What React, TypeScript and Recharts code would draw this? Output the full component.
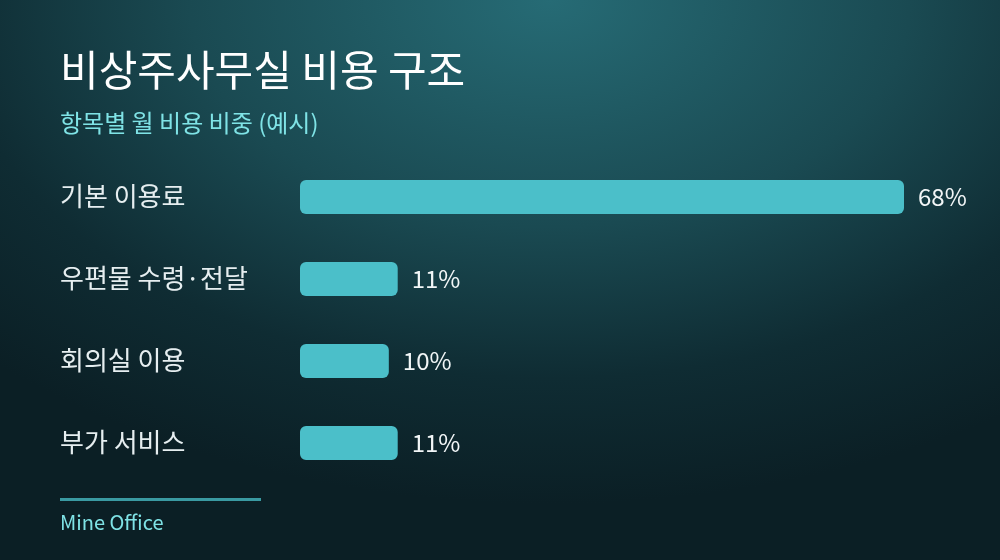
import { BarChart, Bar, XAxis, YAxis, LabelList } from 'recharts';

const categories = ['기본 이용료', '우편물 수령·전달', '회의실 이용', '부가 서비스'];
const shares = [68, 11, 10, 11];

const data = categories.map((name, i) => ({ name, share: shares[i] }));

const FONT = '"Noto Sans CJK KR", "Noto Sans", sans-serif';

const CategoryTick = ({ y, payload }: any) => (
  <text x={60} y={y} dy={9} textAnchor="start" fill="#e6eef0" fontSize={26} fontFamily={FONT}>
    {payload.value}
  </text>
);

const App = () => {
  return (
    <div
      style={{
        position: 'fixed',
        left: 0,
        top: 0,
        width: 1000,
        height: 560,
        overflow: 'hidden',
        fontFamily: FONT,
        background:
          'radial-gradient(ellipse 80% 90% at 55% 0%, #266b75 0%, #1a4a52 45%, #0f2c33 75%, #0b1f25 100%)',
      }}
    >
      <div style={{ position: 'absolute', left: 60, top: 39, fontSize: 42, fontWeight: 400, color: '#ffffff', lineHeight: '58px' }}>
        비상주사무실 비용 구조
      </div>
      <div style={{ position: 'absolute', left: 60, top: 105, fontSize: 24, color: '#7fe3e6', lineHeight: '34px' }}>
        항목별 월 비용 비중 (예시)
      </div>
      <div style={{ position: 'absolute', left: 0, top: 0 }}>
        <BarChart
          width={1000}
          height={560}
          data={data}
          layout="vertical"
          margin={{ top: 156, right: 96, bottom: 76, left: 60 }}
          barSize={34}
        >
          <XAxis type="number" domain={[0, 68]} hide />
          <YAxis
            type="category"
            dataKey="name"
            width={240}
            axisLine={false}
            tickLine={false}
            tick={<CategoryTick />}
          />
          <Bar dataKey="share" fill="#4bbfc9" radius={6} isAnimationActive={false}>
            <LabelList
              dataKey="share"
              position="right"
              offset={14}
              formatter={(v: any) => `${v}%`}
              fill="#f2f6f7"
              fontSize={24}
              fontFamily={FONT}
            />
          </Bar>
        </BarChart>
      </div>
      <div style={{ position: 'absolute', left: 60, top: 498, width: 201, height: 3, background: '#3a9aa2' }} />
      <div style={{ position: 'absolute', left: 60, top: 507, fontSize: 20, color: '#7fe3e6', lineHeight: '30px' }}>
        Mine Office
      </div>
    </div>
  );
};

export default App;
